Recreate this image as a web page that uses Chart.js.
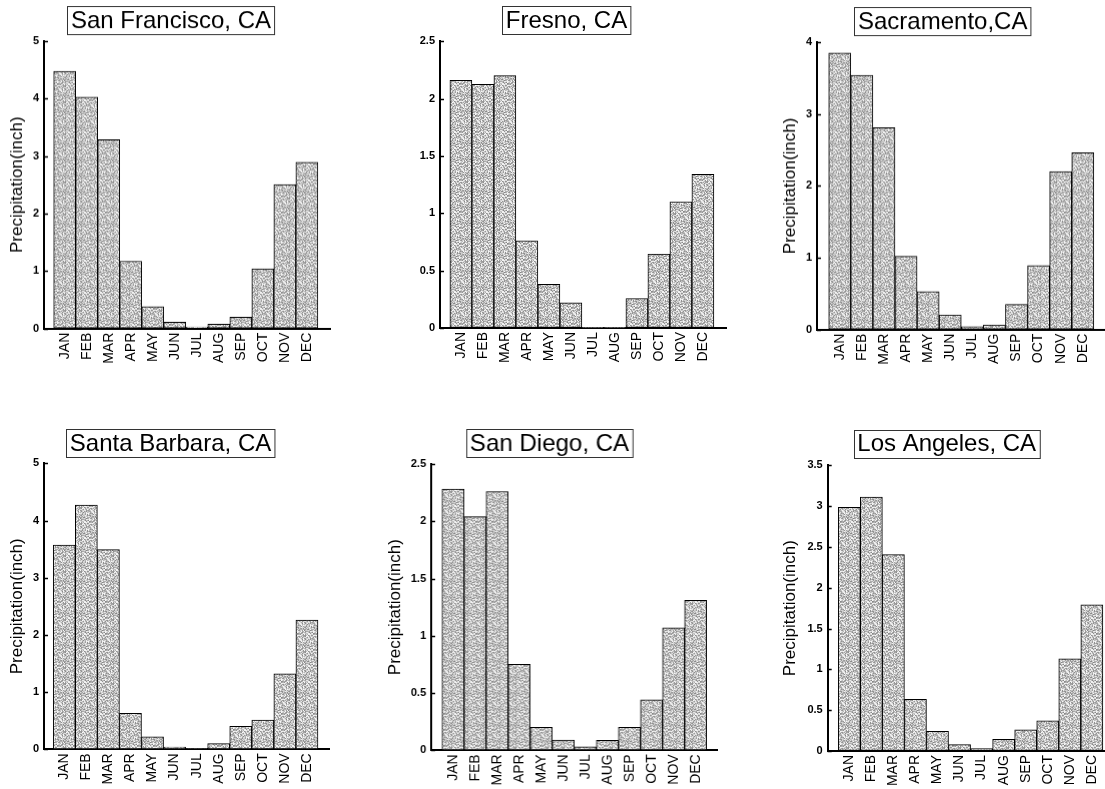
<!DOCTYPE html>
<html>
<head>
<meta charset="utf-8">
<title>Monthly precipitation, California cities</title>
<script src="https://cdn.jsdelivr.net/npm/chart.js@4.4.0/dist/chart.umd.min.js"></script>
<style>
  html, body { margin: 0; padding: 0; background: #fff; overflow: hidden; width: 1105px; height: 789px; }
  .panel { position: absolute; }
</style>
</head>
<body>
<div id="charts"></div>
<script>
// monthly precipitation (inch)
const months = ['JAN', 'FEB', 'MAR', 'APR', 'MAY', 'JUN', 'JUL', 'AUG', 'SEP', 'OCT', 'NOV', 'DEC'];
const sanFrancisco = [4.47, 4.02, 3.28, 1.17, 0.38, 0.11, 0.03, 0.075, 0.2, 1.04, 2.5, 2.89];
const fresno = [2.16, 2.125, 2.2, 0.76, 0.38, 0.22, 0.005, 0.005, 0.256, 0.645, 1.1, 1.34];
const sacramento = [3.85, 3.54, 2.81, 1.02, 0.53, 0.205, 0.04, 0.065, 0.35, 0.89, 2.2, 2.46];
const santaBarbara = [3.57, 4.27, 3.49, 0.63, 0.22, 0.04, 0.01, 0.1, 0.4, 0.51, 1.32, 2.26];
const sanDiego = [2.28, 2.04, 2.26, 0.75, 0.2, 0.09, 0.03, 0.087, 0.2, 0.44, 1.07, 1.31];
const losAngeles = [2.985, 3.11, 2.405, 0.633, 0.24, 0.078, 0.03, 0.143, 0.26, 0.37, 1.13, 1.79];

const cityNames = ['San Francisco, CA', 'Fresno, CA', 'Sacramento,CA', 'Santa Barbara, CA', 'San Diego, CA', 'Los Angeles, CA'];
const cityValues = [sanFrancisco, fresno, sacramento, santaBarbara, sanDiego, losAngeles];
const yMax = [5, 2.5, 4, 5, 2.5, 3.5];
const yStep = [1, 0.5, 1, 1, 0.5, 0.5];
const yTitle = 'Precipitation(inch)';

// where each panel sits on the page (px)
const panels = [
  { left: 0,   top: 0,   ax: 44,    ar: 330,  at: 40.7,  ab: 327.7, xmin: -0.94, xmax: 12.05, tx: 171,   ty: 20,    yt: 17 },
  { left: 370, top: 0,   ax: 440,   ar: 726,  at: 41.3,  ab: 328,   xmin: -0.95, xmax: 12.05, tx: 566.5, ty: 20,    yt: null },
  { left: 735, top: 0,   ax: 817,   ar: 1106, at: 42,    ab: 328.7, xmin: -1.03, xmax: 12.05, tx: 942.7, ty: 21,    yt: 790 },
  { left: 0,   top: 390, ax: 44,    ar: 329,  at: 463.3, ab: 749.3, xmin: -0.92, xmax: 12.0,  tx: 170.5, ty: 443.4, yt: 17 },
  { left: 370, top: 390, ax: 431,   ar: 716.7, at: 464,  ab: 750.3, xmin: -0.99, xmax: 12.0,  tx: 549,   ty: 443.4, yt: 395 },
  { left: 735, top: 390, ax: 827.7, ar: 1115, at: 465.3, ab: 751,   xmin: -0.98, xmax: 12.05, tx: 946.7, ty: 443.5, yt: 790 }
];

const FONT = "'Liberation Sans', Arial, sans-serif";
const X_AXIS_H = 45;
const RIGHT_PAD = 20;

// stippled grey fill like the printed bars (fixed hash, same every run)
function makeStipple() {
  const n = 16;
  const c = document.createElement('canvas');
  c.width = n; c.height = n;
  const g = c.getContext('2d');
  const img = g.createImageData(n, n);
  for (let i = 0; i < n * n; i++) {
    let h = (i * 2654435761) >>> 0;
    h = ((h ^ (h >>> 13)) * 1274126177) >>> 0;
    const s = 135 + (h % 115);
    img.data[i * 4] = s; img.data[i * 4 + 1] = s; img.data[i * 4 + 2] = s; img.data[i * 4 + 3] = 255;
  }
  g.putImageData(img, 0, 0);
  return g.createPattern(c, 'repeat');
}
const stipple = makeStipple();

// boxed title + short inward ticks on the y axis
const boxTitle = {
  id: 'boxTitle',
  afterDraw(chart, args, opts) {
    const ctx = chart.ctx;
    const area = chart.chartArea;
    const y = chart.scales.y;
    ctx.save();
    ctx.strokeStyle = '#000';
    ctx.lineWidth = 1.5;
    ctx.beginPath();
    y.ticks.forEach(t => {
      const p = Math.round(y.getPixelForValue(t.value)) + 0.5;
      ctx.moveTo(area.left, p);
      ctx.lineTo(area.left + 4, p);
    });
    ctx.stroke();

    ctx.font = '24px ' + FONT;
    const w = ctx.measureText(opts.text).width + 7;
    const h = 28;
    const x0 = Math.round(opts.x - w / 2) + 0.5;
    const y0 = Math.round(opts.y - h / 2) + 0.5;
    ctx.fillStyle = '#fff';
    ctx.fillRect(x0, y0, w, h);
    ctx.lineWidth = 1;
    ctx.strokeStyle = '#333';
    ctx.strokeRect(x0, y0, w, h);
    ctx.fillStyle = '#000';
    ctx.textAlign = 'center';
    ctx.textBaseline = 'middle';
    ctx.fillText(opts.text, opts.x, opts.y + 1);
    ctx.restore();
  }
};

const holder = document.getElementById('charts');

panels.forEach((p, k) => {
  const width = p.ar - p.left + RIGHT_PAD;
  const height = p.ab - p.top + X_AXIS_H;
  const div = document.createElement('div');
  div.className = 'panel';
  div.style.left = p.left + 'px';
  div.style.top = p.top + 'px';
  div.style.width = width + 'px';
  div.style.height = height + 'px';
  const canvas = document.createElement('canvas');
  div.appendChild(canvas);
  holder.appendChild(div);

  const yWidth = p.ax - p.left;

  new Chart(canvas, {
    type: 'bar',
    data: {
      labels: months.map((m, i) => i),
      datasets: [{
        data: cityValues[k],
        backgroundColor: stipple,
        borderColor: '#000',
        borderWidth: 1,
        borderSkipped: false,
        barPercentage: 1,
        categoryPercentage: 1
      }]
    },
    options: {
      responsive: true,
      maintainAspectRatio: false,
      animation: false,
      layout: { padding: { left: 0, top: p.at - p.top, right: RIGHT_PAD, bottom: 0 } },
      plugins: {
        legend: { display: false },
        tooltip: { enabled: false },
        boxTitle: { text: cityNames[k], x: p.tx - p.left, y: p.ty - p.top }
      },
      scales: {
        x: {
          type: 'linear',
          offset: false,
          min: p.xmin,
          max: p.xmax,
          grid: { display: true, offset: false, drawOnChartArea: false, drawTicks: false },
          border: { display: true, color: '#000', width: 2 },
          afterBuildTicks: s => { s.ticks = months.map((m, i) => ({ value: i })); },
          afterFit: s => { s.height = X_AXIS_H; },
          ticks: {
            autoSkip: false,
            minRotation: 90,
            maxRotation: 90,
            padding: 4,
            color: '#000',
            font: { family: FONT, size: 14 },
            callback: v => months[v]
          }
        },
        y: {
          min: 0,
          max: yMax[k],
          grid: { display: true, drawOnChartArea: false, drawTicks: false },
          border: { display: true, color: '#000', width: 2 },
          afterFit: s => { s.width = yWidth; },
          ticks: {
            stepSize: yStep[k],
            padding: 5,
            color: '#000',
            font: { family: FONT, size: 11, weight: 'bold' },
            callback: v => String(v)
          },
          title: {
            display: p.yt !== null,
            text: yTitle,
            color: '#000',
            font: { family: FONT, size: 17 },
            padding: { top: p.yt !== null ? p.yt - p.left - 10.2 : 0, bottom: 0 }
          }
        }
      }
    },
    plugins: [boxTitle]
  });
});
</script>
</body>
</html>
